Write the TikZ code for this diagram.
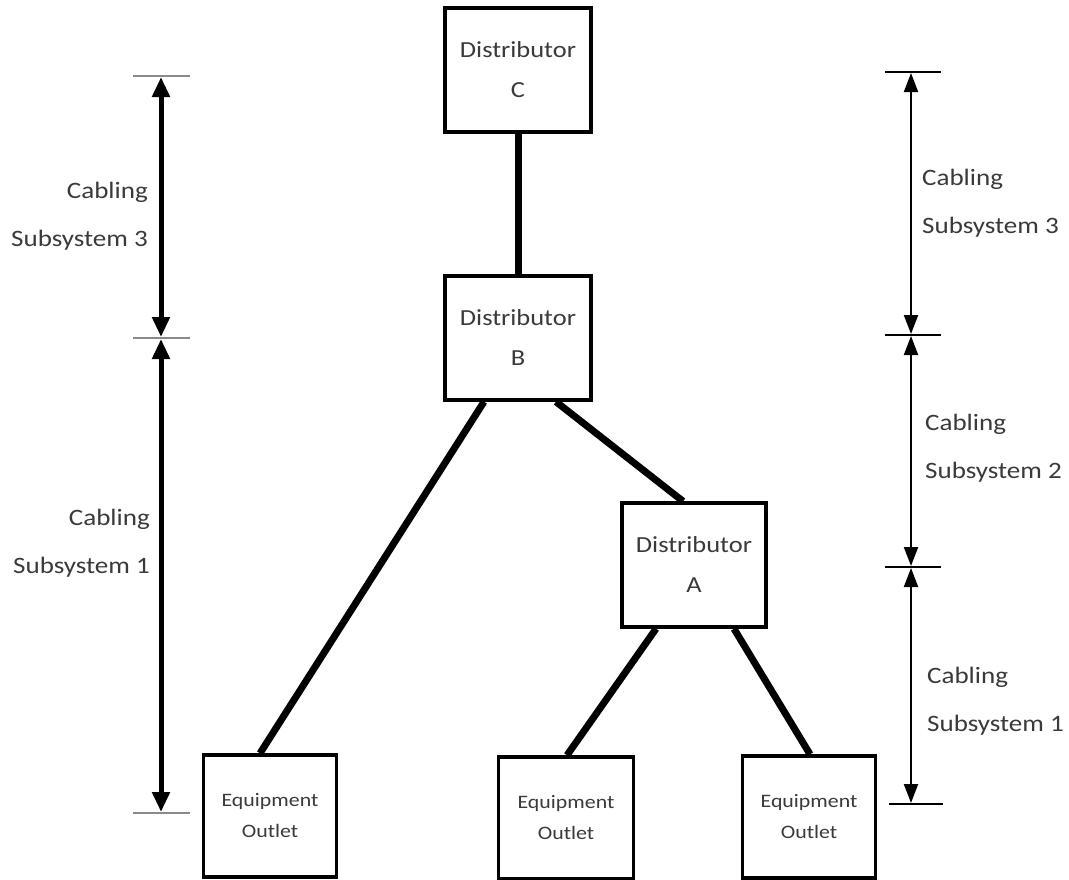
\documentclass[tikz,border=0pt]{standalone}
\usepackage{fontspec}
\setmainfont{Carlito}[FakeStretch=1.15]
\usetikzlibrary{arrows.meta}
\definecolor{txt}{HTML}{3A3A3A}
\definecolor{tickgray}{HTML}{8A8A8A}
\tikzset{
  distbox/.style={draw=black, line width=3.5pt, fill=white, minimum width=146pt, minimum height=124pt, inner sep=0pt, align=center, text=txt, font=\fontsize{23}{40}\selectfont},
  eobox/.style={draw=black, line width=3.5pt, fill=white, minimum width=133pt, minimum height=122pt, inner sep=0pt, align=center, text=txt, font=\fontsize{19}{31}\selectfont},
  cable/.style={line width=7pt},
  lbl/.style={text=txt, font=\fontsize{23.5}{48}\selectfont, inner sep=0pt},
  ltick/.style={draw=tickgray, line width=2.2pt},
  rtick/.style={draw=black, line width=2pt},
  larrow/.style={line width=5pt, {Triangle[width=17pt,length=20pt]}-{Triangle[width=17pt,length=20pt]}, shorten <=1pt, shorten >=1pt},
  rarrow/.style={line width=2pt, {Triangle[width=14pt,length=19pt]}-{Triangle[width=14pt,length=19pt]}, shorten <=1pt, shorten >=1pt}
}
\begin{document}
\begin{tikzpicture}[x=1pt,y=-1pt]
\useasboundingbox (0,0) rectangle (1069,879);
\fill[white] (0,0) rectangle (1069,879);
% boxes
\node[distbox] (C) at (518,70) {Distributor\\C};
\node[distbox] (B) at (518,338) {Distributor\\B};
\node[distbox, minimum width=144pt] (A) at (694,565) {Distributor\\A};
\node[eobox] (E1) at (270,816) {Equipment\\Outlet};
\node[eobox, minimum width=135pt] (E2) at (566,818) {Equipment\\Outlet};
\node[eobox] (E3) at (809,817) {Equipment\\Outlet};
% cables
\draw[cable] (C.south) -- (B.north);
\draw[cable] ([xshift=-34pt]B.south) -- ([xshift=-10pt]E1.north);
\draw[cable] ([xshift=38pt]B.south) -- ([xshift=-11pt]A.north);
\draw[cable] ([xshift=-38pt]A.south) -- ([xshift=1pt]E2.north);
\draw[cable] ([xshift=40pt]A.south) -- ([xshift=1pt]E3.north);
% left dimension
\coordinate (L1) at (161,76);
\coordinate (L2) at (161,338);
\coordinate (L3) at (161,813);
\draw[ltick] (133,76) -- (190,76);
\draw[ltick] (133,338) -- (190,338);
\draw[ltick] (133,813) -- (190,813);
\draw[larrow] (L1) -- (L2);
\draw[larrow] (L2) -- (L3);
\node[lbl, align=right, anchor=east] (LT) at (148,216) {Cabling\\Subsystem 3};
\node[lbl, align=right, anchor=east] (LB) at (150,543) {Cabling\\Subsystem 1};
% right dimension
\coordinate (R1) at (911,72);
\coordinate (R2) at (911,335);
\coordinate (R3) at (911,567);
\coordinate (R4) at (911,804);
\draw[rtick] (885,72) -- (941,72);
\draw[rtick] (885,335) -- (941,335);
\draw[rtick] (885,567) -- (941,567);
\draw[rtick] (889,804) -- (943,804);
\draw[rarrow] (R1) -- (R2);
\draw[rarrow] (R2) -- (R3);
\draw[rarrow] (R3) -- (R4);
\node[lbl, align=left, anchor=west] (RT) at (922,203) {Cabling\\Subsystem 3};
\node[lbl, align=left, anchor=west] (RM) at (925,448) {Cabling\\Subsystem 2};
\node[lbl, align=left, anchor=west] (RB) at (927,701) {Cabling\\Subsystem 1};
\end{tikzpicture}
\end{document}
